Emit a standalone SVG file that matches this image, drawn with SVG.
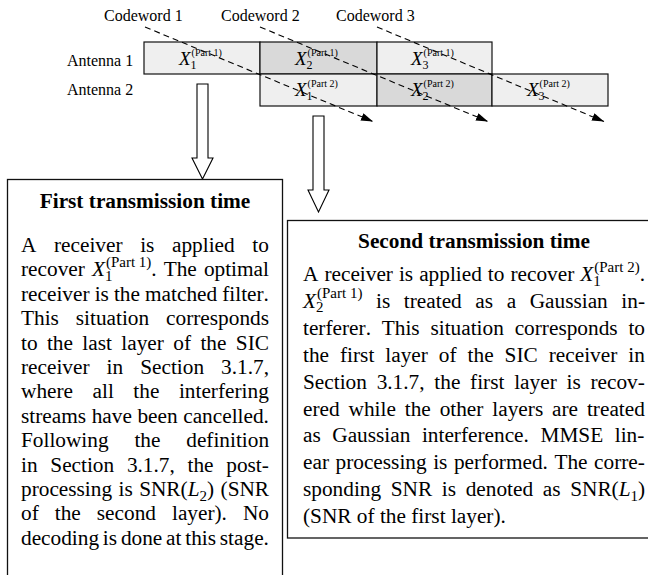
<svg xmlns="http://www.w3.org/2000/svg" width="648" height="575" viewBox="0 0 648 575">
<style>
text{font-family:"Liberation Serif","Times New Roman",serif;fill:#000;font-kerning:none}
.lbl{font-size:16px}
.cell{stroke:#111;stroke-width:1.2}
.lt{fill:#efefef}
.dk{fill:#d9d9d9}
.cx{font-size:19px;font-style:italic}
.csb{font-size:12px;font-style:normal}
.csp{font-size:10px;font-style:normal;word-spacing:0}
.body{font-size:21.3px}
.ttl{font-size:21.3px;font-weight:bold;text-anchor:middle}
.mi{font-style:italic}
.sb{font-size:15px}
.sp{font-size:15px;word-spacing:0}
.box{fill:#fff;stroke:#111;stroke-width:1.3}
.dash{fill:none;stroke:#000;stroke-width:1.1;stroke-dasharray:6 4}
.hollow{fill:#fff;stroke:#000;stroke-width:1.1}
</style>
<defs>
<marker id="ah" markerWidth="12" markerHeight="8" refX="12" refY="4" orient="auto" markerUnits="userSpaceOnUse">
<path d="M0,0 L12,4 L0,8 z" fill="#000"/>
</marker>
</defs>

<g id="labels">
<text class="lbl" x="104" y="21">Codeword 1</text>
<text class="lbl" x="221" y="21">Codeword 2</text>
<text class="lbl" x="336" y="21">Codeword 3</text>
<text class="lbl" x="67" y="66">Antenna 1</text>
<text class="lbl" x="67" y="95">Antenna 2</text>
</g>

<g id="cell-a1-1"><rect class="cell lt" x="144" y="42" width="116" height="32"/><text class="cx" x="179" y="65">X<tspan class="csb" dy="3.5">1</tspan><tspan class="csp" dx="-5" dy="-12.5">(Part 1)</tspan></text></g>
<g id="cell-a1-2"><rect class="cell dk" x="260" y="42" width="117" height="32"/><text class="cx" x="295" y="65">X<tspan class="csb" dy="3.5">2</tspan><tspan class="csp" dx="-5" dy="-12.5">(Part 1)</tspan></text></g>
<g id="cell-a1-3"><rect class="cell lt" x="377" y="42" width="115" height="32"/><text class="cx" x="411" y="65">X<tspan class="csb" dy="3.5">3</tspan><tspan class="csp" dx="-5" dy="-12.5">(Part 1)</tspan></text></g>
<g id="cell-a2-1"><rect class="cell lt" x="260" y="74" width="117" height="32"/><text class="cx" x="295" y="96">X<tspan class="csb" dy="3.5">1</tspan><tspan class="csp" dx="-5" dy="-12.5">(Part 2)</tspan></text></g>
<g id="cell-a2-2"><rect class="cell dk" x="377" y="74" width="115" height="32"/><text class="cx" x="411" y="96">X<tspan class="csb" dy="3.5">2</tspan><tspan class="csp" dx="-5" dy="-12.5">(Part 2)</tspan></text></g>
<g id="cell-a2-3"><rect class="cell lt" x="492" y="74" width="116" height="32"/><text class="cx" x="527" y="96">X<tspan class="csb" dy="3.5">3</tspan><tspan class="csp" dx="-5" dy="-12.5">(Part 2)</tspan></text></g>

<g id="connectors">
<line class="dash" x1="145" y1="27" x2="373" y2="121.5" marker-end="url(#ah)"/>
<line class="dash" x1="260" y1="27" x2="488" y2="121.5" marker-end="url(#ah)"/>
<line class="dash" x1="377" y1="27" x2="604" y2="121.5" marker-end="url(#ah)"/>
<path class="hollow" d="M197,84 H208 V158 H213 L202.5,179 L192,158 H197 Z"/>
<path class="hollow" d="M313,116 H324 V190 H329 L318.5,212 L308,190 H313 Z"/>
</g>

<g id="box-first">
<rect class="box" x="7.5" y="179.5" width="275" height="420"/>
<text class="ttl" x="145" y="208">First transmission time</text>
<text class="body" x="21" y="252" word-spacing="12.3">A receiver is applied to</text>
<text class="body" x="21" y="276.4" word-spacing="1.74">recover <tspan class="mi">X</tspan><tspan class="sb" dy="4.5">1</tspan><tspan class="sp" dx="-6.5" dy="-14">(Part 1)</tspan><tspan dy="9.5">. The optimal</tspan></text>
<text class="body" x="21" y="300.8" word-spacing="-0.25">receiver is the matched filter.</text>
<text class="body" x="21" y="325.2" word-spacing="11.6">This situation corresponds</text>
<text class="body" x="21" y="349.6" word-spacing="4.06">to the last layer of the SIC</text>
<text class="body" x="21" y="374" word-spacing="11.7">receiver in Section 3.1.7,</text>
<text class="body" x="21" y="398.4" word-spacing="14.2">where all the interfering</text>
<text class="body" x="21" y="422.8" word-spacing="0.25">streams have been cancelled.</text>
<text class="body" x="21" y="447.2" word-spacing="20.5">Following the definition</text>
<text class="body" x="21" y="471.6" word-spacing="7.4">in Section 3.1.7, the post-</text>
<text class="body" x="21" y="496" word-spacing="1.1">processing is SNR(<tspan class="mi">L</tspan><tspan class="sb" dy="4.5">2</tspan><tspan dy="-4.5">) (SNR</tspan></text>
<text class="body" x="21" y="520.4" word-spacing="10.7">of the second layer). No</text>
<text class="body" x="21" y="544.8" word-spacing="-1.52">decoding is done at this stage.</text>
</g>

<g id="box-second">
<rect class="box" x="287.5" y="220.5" width="380" height="317.5"/>
<text class="ttl" x="474" y="248">Second transmission time</text>
<text class="body" x="303" y="281" word-spacing="0.68">A receiver is applied to recover <tspan class="mi">X</tspan><tspan class="sb" dy="4.5">1</tspan><tspan class="sp" dx="-6.5" dy="-14">(Part 2)</tspan><tspan dy="9.5">.</tspan></text>
<text class="body" x="303" y="307.9" word-spacing="8.26"><tspan class="mi">X</tspan><tspan class="sb" dy="4.5">2</tspan><tspan class="sp" dx="-6.5" dy="-14">(Part 1)</tspan><tspan dy="9.5"> is treated as a Gaussian in-</tspan></text>
<text class="body" x="303" y="334.8" word-spacing="5.5">terferer. This situation corresponds to</text>
<text class="body" x="303" y="361.7" word-spacing="5.67">the first layer of the SIC receiver in</text>
<text class="body" x="303" y="388.6" word-spacing="4.44">Section 3.1.7, the first layer is recov-</text>
<text class="body" x="303" y="415.5" word-spacing="3.57">ered while the other layers are treated</text>
<text class="body" x="303" y="442.4" word-spacing="6.22">as Gaussian interference. MMSE lin-</text>
<text class="body" x="303" y="469.3" word-spacing="1.21">ear processing is performed. The corre-</text>
<text class="body" x="303" y="496.2" word-spacing="4.33">sponding SNR is denoted as SNR(<tspan class="mi">L</tspan><tspan class="sb" dy="4.5">1</tspan><tspan dy="-4.5">)</tspan></text>
<text class="body" x="303" y="523.1">(SNR of the first layer).</text>
</g>
</svg>
